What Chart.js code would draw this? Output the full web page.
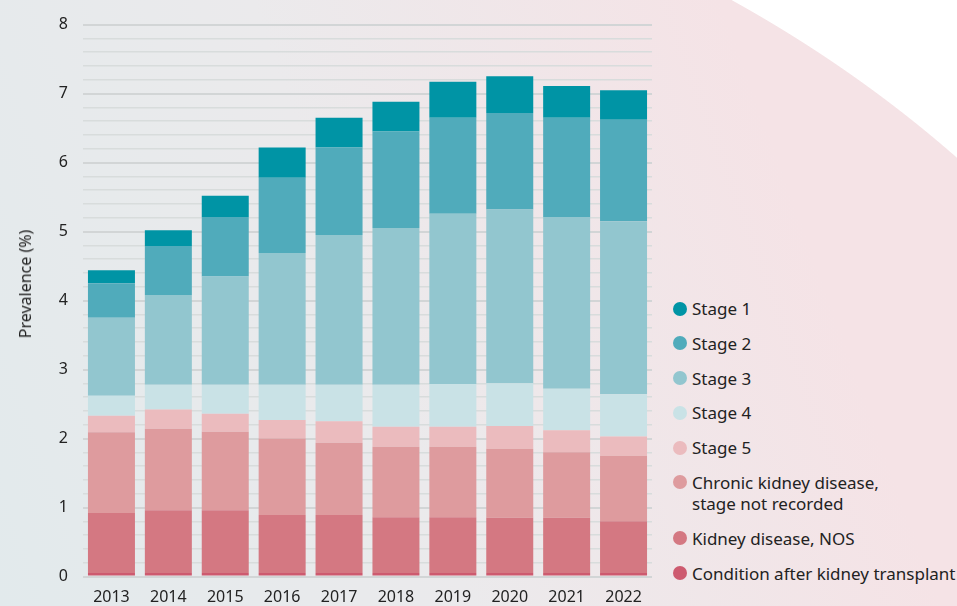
<!DOCTYPE html>
<html>
<head>
<meta charset="utf-8">
<title>Kidney disease prevalence</title>
<script src="https://cdn.jsdelivr.net/npm/chart.js@4.4.1/dist/chart.umd.min.js"></script>
<style>
  html, body {
    margin: 0;
    padding: 0;
    width: 957px;
    height: 606px;
    overflow: hidden;
    font-family: "Noto Sans", Lato, sans-serif;
    color: #222;
  }
  body {
    background:
      radial-gradient(ellipse 1314px 1084px at 0px 900px, rgba(255,255,255,0) calc(100% - 1px), #ffffff 100%),
      linear-gradient(70deg, #e2eaec 0%, #ebeaec 40%, #f5e3e6 80%);
  }
  #chart-wrap {
    position: absolute;
    left: 0;
    top: 0;
    width: 660px;
    height: 606px;
  }
  #y-title {
    position: absolute;
    left: 25px;
    top: 284px;
    transform: translate(-50%, -50%) rotate(-90deg);
    font-size: 16px;
    white-space: nowrap;
  }
  #legend {
    position: absolute;
    left: 673px;
    top: 298px;
    margin: 0;
    padding: 0;
    list-style: none;
    font-size: 17px;
    line-height: 21px;
  }
  #legend li {
    position: relative;
    padding-left: 19px;
    margin-bottom: 13.8px;
    white-space: pre-line;
  }
  #legend .dot {
    position: absolute;
    left: 0;
    top: 3.5px;
    width: 14px;
    height: 14px;
    border-radius: 50%;
  }
</style>
</head>
<body>
<div id="chart-wrap"><canvas id="prevalence-chart" width="660" height="606"></canvas></div>
<div id="y-title">Prevalence (%)</div>
<ul id="legend"></ul>

<script>
  const years = ['2013', '2014', '2015', '2016', '2017', '2018', '2019', '2020', '2021', '2022'];

  // bottom of the stack first
  const afterTransplant = [0.05, 0.05, 0.05, 0.05, 0.05, 0.05, 0.05, 0.05, 0.05, 0.05];
  const kidneyNos = [0.87, 0.91, 0.91, 0.84, 0.84, 0.81, 0.81, 0.80, 0.80, 0.75];
  const ckdNoStage = [1.17, 1.18, 1.14, 1.11, 1.05, 1.02, 1.02, 1.00, 0.95, 0.95];
  const stage5 = [0.24, 0.28, 0.26, 0.27, 0.31, 0.29, 0.29, 0.33, 0.32, 0.28];
  const stage4 = [0.29, 0.36, 0.42, 0.51, 0.53, 0.61, 0.62, 0.62, 0.60, 0.61];
  const stage3 = [1.13, 1.30, 1.57, 1.91, 2.17, 2.27, 2.47, 2.52, 2.49, 2.51];
  const stage2 = [0.50, 0.71, 0.86, 1.09, 1.27, 1.40, 1.39, 1.40, 1.44, 1.47];
  const stage1 = [0.19, 0.23, 0.31, 0.44, 0.43, 0.43, 0.52, 0.53, 0.46, 0.43];

  const yMin = 0;
  const yMax = 8;
  const yStep = 0.2;

  (function () {
    const series = [
      { label: 'Condition after kidney transplant', data: afterTransplant, color: '#cd5a6f' },
      { label: 'Kidney disease, NOS', data: kidneyNos, color: '#d47882' },
      { label: 'Chronic kidney disease,\nstage not recorded', data: ckdNoStage, color: '#de9b9e' },
      { label: 'Stage 5', data: stage5, color: '#ebbbbe' },
      { label: 'Stage 4', data: stage4, color: '#c9e2e6' },
      { label: 'Stage 3', data: stage3, color: '#92c6cf' },
      { label: 'Stage 2', data: stage2, color: '#50abbb' },
      { label: 'Stage 1', data: stage1, color: '#0094a5' },
    ];

    function isWhole(v) {
      return Math.abs(v - Math.round(v)) < 1e-6;
    }

    function renderLegend(chart) {
      const list = document.getElementById('legend');
      list.innerHTML = '';
      chart.data.datasets.slice().reverse().forEach((ds) => {
        const li = document.createElement('li');
        const dot = document.createElement('span');
        dot.className = 'dot';
        dot.style.background = ds.backgroundColor;
        li.appendChild(dot);
        li.appendChild(document.createTextNode(ds.label));
        list.appendChild(li);
      });
    }

    const font = { family: '"Noto Sans", Lato, sans-serif', size: 16 };

    const chart = new Chart(document.getElementById('prevalence-chart'), {
      type: 'bar',
      data: {
        labels: years,
        datasets: series.map((s) => ({
          label: s.label,
          data: s.data,
          backgroundColor: s.color,
          borderWidth: 0,
          categoryPercentage: 1,
          barPercentage: 0.826,
        })),
      },
      options: {
        responsive: false,
        animation: false,
        layout: { padding: { top: 22, right: 8, left: 0, bottom: 0 } },
        plugins: {
          legend: { display: false },
          tooltip: { enabled: false },
        },
        scales: {
          x: {
            stacked: true,
            grid: { display: false, drawTicks: false },
            border: { display: false },
            ticks: { color: '#222', font, padding: 11 },
            afterFit(scale) { scale.height = 29.5; },
          },
          y: {
            stacked: true,
            min: yMin,
            max: yMax,
            border: { display: false },
            grid: {
              drawTicks: false,
              color: (ctx) => (isWhole(ctx.tick.value) ? '#d2d5d6' : '#d8dcdc'),
              lineWidth: (ctx) => (isWhole(ctx.tick.value) ? 2 : 1.4),
            },
            ticks: {
              stepSize: yStep,
              color: '#222',
              font,
              padding: 15,
              autoSkip: false,
              callback: (v) => (isWhole(v) ? String(Math.round(v)) : ''),
            },
            afterFit(scale) { scale.width = 83; },
          },
        },
      },
    });

    renderLegend(chart);
  })();
</script>
</body>
</html>
